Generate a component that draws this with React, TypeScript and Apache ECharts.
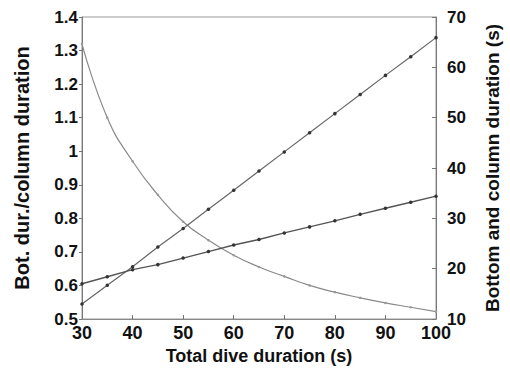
import React, { useEffect, useRef } from "react";
import * as echarts from "echarts";

const diveDuration = [30, 35, 40, 45, 50, 55, 60, 65, 70, 75, 80, 85, 90, 95, 100];
const ratio = [1.32, 1.1, 0.97, 0.87, 0.79, 0.735, 0.69, 0.655, 0.627, 0.6, 0.58, 0.563, 0.548, 0.535, 0.522];
const columnDuration = [13.0, 16.7, 20.4, 24.3, 28.0, 31.8, 35.6, 39.4, 43.2, 47.0, 50.8, 54.6, 58.4, 62.1, 65.9];
const bottomDuration = [17.0, 18.4, 19.8, 20.8, 22.1, 23.4, 24.7, 25.8, 27.1, 28.3, 29.5, 30.8, 32.0, 33.2, 34.4];

const font = "'Liberation Sans', Arial, sans-serif";

export default function App() {
  const ref = useRef<HTMLDivElement>(null);
  useEffect(() => {
    const chart = echarts.init(ref.current!, null, { renderer: "svg" });
    const pair = (ys: number[]) => diveDuration.map((x, i) => [x, ys[i]]);
    const labelStyle = { color: "#111", fontFamily: font, fontWeight: "bold" as const, fontSize: 17 };
    chart.setOption({
      animation: false,
      grid: { left: 82, right: 68, top: 17, bottom: 50, show: true, borderColor: "#999", borderWidth: 1 },
      xAxis: {
        type: "value",
        min: 30,
        max: 100,
        interval: 10,
        name: "Total dive duration (s)",
        nameLocation: "middle",
        nameGap: 28,
        nameTextStyle: { ...labelStyle, fontSize: 18 },
        axisLine: { show: true, lineStyle: { color: "#888", width: 1 } },
        axisTick: { show: true, inside: true, length: 4, lineStyle: { color: "#777" } },
        axisLabel: { ...labelStyle, fontSize: 18, margin: 6, lineHeight: 16 },
        splitLine: { show: false },
      },
      yAxis: [
        {
          type: "value",
          min: 0.5,
          max: 1.4,
          interval: 0.1,
          position: "left",
          name: "Bot. dur./column duration",
          nameLocation: "middle",
          nameGap: 50,
          nameTextStyle: { ...labelStyle, fontSize: 20 },
          axisLine: { show: true, lineStyle: { color: "#777", width: 1 } },
          axisTick: { show: true, inside: false, length: 3, lineStyle: { color: "#777" } },
          axisLabel: {
            ...labelStyle,
            margin: 4,
            lineHeight: 13,
            formatter: (v: number) => String(parseFloat(v.toFixed(2))),
          },
          splitLine: { show: false },
        },
        {
          type: "value",
          min: 10,
          max: 70,
          interval: 10,
          position: "right",
          name: "Bottom and column duration (s)",
          nameLocation: "middle",
          nameGap: 47,
          nameRotate: 90,
          nameTextStyle: { ...labelStyle, fontSize: 19 },
          axisLine: { show: true, lineStyle: { color: "#777", width: 1 } },
          axisTick: { show: true, inside: true, length: 4, lineStyle: { color: "#777" } },
          axisLabel: { ...labelStyle, margin: 11, lineHeight: 12 },
          splitLine: { show: false },
        },
      ],
      series: [
        {
          type: "line",
          yAxisIndex: 0,
          data: pair(ratio),
          smooth: true,
          symbol: "circle",
          symbolSize: 2.5,
          itemStyle: { color: "#999" },
          lineStyle: { color: "#8a8a8a", width: 1.2 },
        },
        {
          type: "line",
          yAxisIndex: 1,
          data: pair(columnDuration),
          symbol: "circle",
          symbolSize: 3.5,
          itemStyle: { color: "#333" },
          lineStyle: { color: "#666", width: 1.2 },
        },
        {
          type: "line",
          yAxisIndex: 1,
          data: pair(bottomDuration),
          symbol: "circle",
          symbolSize: 3.5,
          itemStyle: { color: "#333" },
          lineStyle: { color: "#555", width: 1.4 },
        },
      ],
    });
    return () => chart.dispose();
  }, []);
  return <div ref={ref} style={{ width: 510, height: 370, position: "absolute", left: 0, top: 0 }} />;
}
